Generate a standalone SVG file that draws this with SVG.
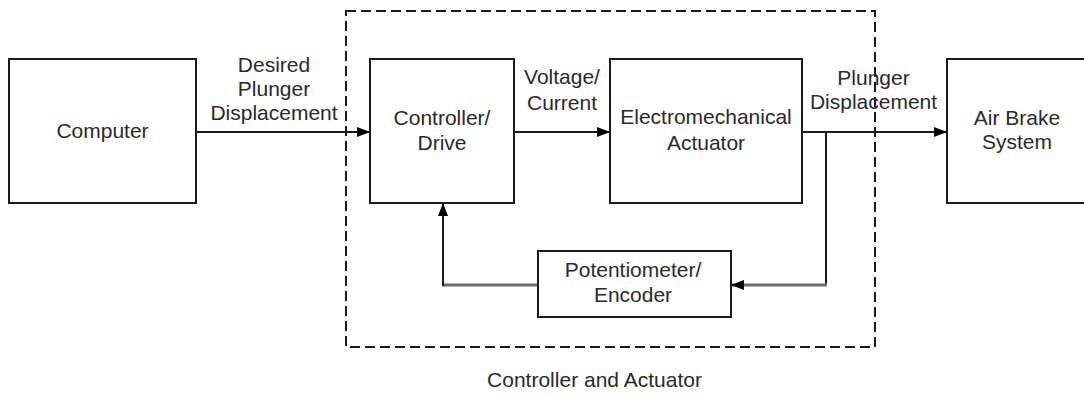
<svg xmlns="http://www.w3.org/2000/svg" width="1084" height="394" viewBox="0 0 1084 394">
  <style>
    .box { fill: #ffffff; stroke: #1a1a1a; stroke-width: 2; }
    .frame { fill: none; stroke: #1a1a1a; stroke-width: 2; stroke-dasharray: 10 5; }
    .wire { fill: none; stroke: #1a1a1a; stroke-width: 2; }
    .fb { fill: none; stroke: #6a6a6a; stroke-width: 3; }
    text { font-family: "Liberation Sans", Arial, sans-serif; font-size: 21px; fill: #2a2a2a; text-anchor: middle; }
  </style>
  <defs>
    <marker id="arrow" markerUnits="userSpaceOnUse" markerWidth="14" markerHeight="12" refX="13" refY="5" orient="auto" viewBox="0 0 14 10">
      <path d="M0,0 L13,5 L0,10 Z" fill="#000000"/>
    </marker>
  </defs>
  <rect width="1084" height="394" fill="#ffffff"/>

  <g id="frame-controller-actuator">
    <rect class="frame" x="346" y="11" width="529" height="336"/>
    <text x="594.5" y="387">Controller and Actuator</text>
  </g>

  <g id="connectors">
    <line class="wire" x1="196" y1="132" x2="370" y2="132" marker-end="url(#arrow)"/>
    <line class="wire" x1="514" y1="132" x2="610" y2="132" marker-end="url(#arrow)"/>
    <line class="wire" x1="802" y1="132" x2="947" y2="132" marker-end="url(#arrow)"/>
    <line class="wire" x1="826" y1="132" x2="826" y2="285"/>
    <line class="fb" x1="827" y1="285" x2="731" y2="285" marker-end="url(#arrow)"/>
    <line class="fb" x1="538" y1="285" x2="442" y2="285"/>
    <line class="wire" x1="443" y1="286" x2="443" y2="203" marker-end="url(#arrow)"/>
    <text x="274" y="72">Desired</text>
    <text x="274" y="96">Plunger</text>
    <text x="274" y="120">Displacement</text>
    <text x="562" y="84">Voltage/</text>
    <text x="562" y="110">Current</text>
    <text x="873.5" y="85">Plunger</text>
    <text x="873.5" y="109">Displacement</text>
  </g>

  <g id="node-computer">
    <rect class="box" x="9" y="59" width="187" height="144"/>
    <text x="102.5" y="138">Computer</text>
  </g>

  <g id="node-controller">
    <rect class="box" x="370" y="59" width="144" height="144"/>
    <text x="442" y="125">Controller/</text>
    <text x="442" y="150">Drive</text>
  </g>

  <g id="node-actuator">
    <rect class="box" x="610" y="59" width="192" height="144"/>
    <text x="706" y="124">Electromechanical</text>
    <text x="706" y="150">Actuator</text>
  </g>

  <g id="node-airbrake">
    <rect class="box" x="947" y="59" width="150" height="144"/>
    <text x="1017" y="125">Air Brake</text>
    <text x="1017" y="149">System</text>
  </g>

  <g id="node-potentiometer">
    <rect class="box" x="538" y="251" width="193" height="66"/>
    <text x="633" y="277">Potentiometer/</text>
    <text x="633" y="302">Encoder</text>
  </g>
</svg>
